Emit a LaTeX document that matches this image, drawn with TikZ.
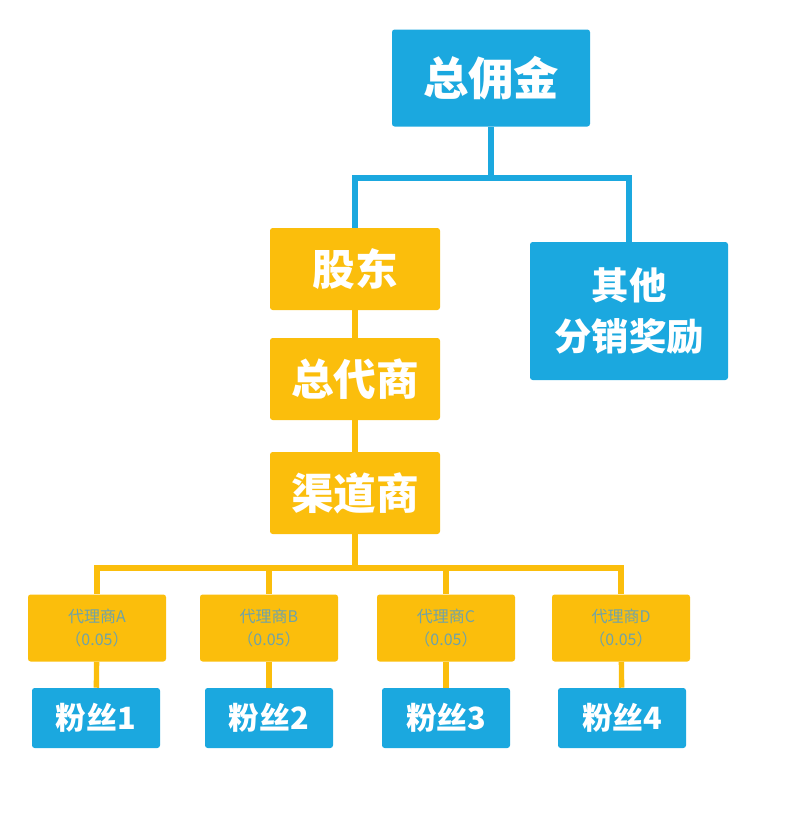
\documentclass[tikz,border=0pt]{standalone}
\usepackage{fontspec}
\newfontfamily\cjk{Noto Sans CJK SC}
\usetikzlibrary{positioning}
\definecolor{boxblue}{HTML}{1BA8DF}
\definecolor{boxyellow}{HTML}{FBBE0C}
\definecolor{smalltext}{HTML}{6FA3A8}

\begin{document}
\begin{tikzpicture}[x=0.75pt,y=-0.75pt,
    box/.style={rounded corners=2pt,inner sep=0pt,align=center,font=\cjk\bfseries},
    bluebox/.style={box,fill=boxblue,text=white},
    yellowbox/.style={box,fill=boxyellow,text=white},
    agent/.style={box,fill=boxyellow,text=smalltext,font=\cjk\fontsize{12}{17}\selectfont,
        minimum width=138*0.75pt,minimum height=67*0.75pt},
    fan/.style={bluebox,font=\cjk\bfseries\fontsize{23}{26}\selectfont,
        minimum width=128*0.75pt,minimum height=60*0.75pt},
    bigbox/.style={minimum width=170*0.75pt,minimum height=82*0.75pt,font=\cjk\bfseries\fontsize{32}{36}\selectfont},
    bluelink/.style={boxblue,line width=4pt},
    yellowlink/.style={boxyellow,line width=4pt}]
    \useasboundingbox (0,0) rectangle (800,828);

    \node[bluebox, minimum width=198*0.75pt, minimum height=97*0.75pt,
        font=\cjk\bfseries\fontsize{34}{38}\selectfont] (total) at (491,78) {总佣金};
    \node[yellowbox, bigbox] (share) at (355,269) {股东};
    \node[bluebox, minimum width=198*0.75pt, minimum height=138*0.75pt,
        font=\cjk\bfseries\fontsize{28}{38}\selectfont] (other) at (629,311) {其他\\分销奖励};
    \node[yellowbox, bigbox] (general) at (355,379) {总代商};
    \node[yellowbox, bigbox] (channel) at (355,493) {渠道商};

    % agents and fans
    \foreach \x/\n/\l in {97/a/A, 269/b/B, 446/c/C, 621/d/D} {
        \node[agent] (agent\n) at (\x,628) {代理商\l\\（0.05）};
    }
    \foreach \x/\n/\k in {96/a/1, 269/b/2, 446/c/3, 622/d/4} {
        \node[fan] (fan\n) at (\x,718) {粉丝\k};
    }

    \draw[bluelink] (total.south) |- (share.north |- 0,178) -| (share.north);
    \draw[bluelink] (total.south) |- (other.north |- 0,178) -| (other.north);
    \draw[yellowlink] (share) -- (general);
    \draw[yellowlink] (general) -- (channel);
    \foreach \n in {a,b,c,d} {
        \draw[yellowlink] (channel.south) |- (agent\n.north |- 0,568) -- (agent\n.north);
        \draw[yellowlink] (agent\n) -- (fan\n);
    }
\end{tikzpicture}
\end{document}
